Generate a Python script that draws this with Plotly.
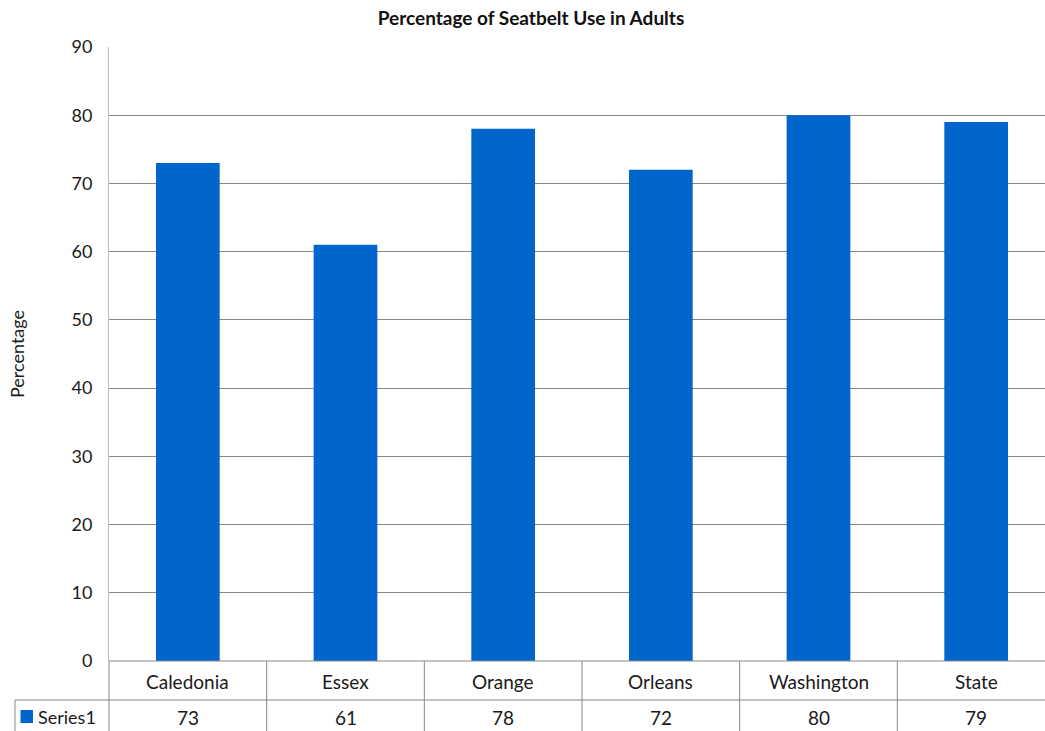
import plotly.graph_objects as go

categories = ["Caledonia", "Essex", "Orange", "Orleans", "Washington", "State"]
values = [73, 61, 78, 72, 80, 79]
series_name = "Series1"
y_ticks = list(range(0, 100, 10))

# the chart is slightly wider than the viewport; its right edge is cropped
W, H = 1055, 731
ML, MR, MT, MB = 109, 0, 47, 70
PW = W - ML - MR
PH = H - MT - MB

BAR = "#0066CC"
GRID = "#878787"
TEXT = "#1a1a1a"
FONT = "Lato, 'Open Sans', sans-serif"


def py(px_below):
    """Paper y for a point px_below pixels under the plot bottom."""
    return -px_below / PH


def px_x(px):
    """Paper x for an absolute pixel column."""
    return (px - ML) / PW


fig = go.Figure()
fig.add_trace(go.Bar(
    x=categories, y=values, name=series_name,
    marker=dict(color=BAR, line=dict(width=0)),
    width=0.404, showlegend=False,
))

annotations = []
for i, (c, v) in enumerate(zip(categories, values)):
    annotations.append(dict(x=i, y=py(20), xref="x", yref="paper", text=c,
                            showarrow=False, font=dict(size=19, color=TEXT),
                            xanchor="center", yanchor="middle"))
    annotations.append(dict(x=i, y=py(56), xref="x", yref="paper", text=str(v),
                            showarrow=False, font=dict(size=19, color=TEXT),
                            xanchor="center", yanchor="middle"))
# data-table legend label
annotations.append(dict(x=px_x(36), y=py(56), xref="paper", yref="paper",
                        text=series_name, showarrow=False,
                        font=dict(size=18, color=TEXT),
                        xanchor="left", yanchor="middle"))

line = dict(color=GRID, width=1)
shapes = [
    # table top / axis baseline
    dict(type="line", xref="paper", yref="paper", x0=0, x1=1, y0=0, y1=0, line=line),
    # row divider
    dict(type="line", xref="paper", yref="paper", x0=px_x(15), x1=1,
         y0=py(39), y1=py(39), line=line),
    # left edge of the table
    dict(type="line", xref="paper", yref="paper", x0=0, x1=0, y0=0, y1=py(70), line=line),
    # legend cell left edge
    dict(type="line", xref="paper", yref="paper", x0=px_x(15), x1=px_x(15),
         y0=py(39), y1=py(70), line=line),
    # legend swatch
    dict(type="rect", xref="paper", yref="paper", x0=px_x(20.5), x1=px_x(33),
         y0=py(49), y1=py(62), fillcolor=BAR, line=dict(width=0)),
]
for i in range(len(categories) - 1):
    shapes.append(dict(type="line", xref="x", yref="paper", x0=i + 0.5, x1=i + 0.5,
                       y0=0, y1=py(70), line=line))

fig.update_layout(
    width=W, height=H,
    margin=dict(l=ML, r=MR, t=MT, b=MB, pad=0, autoexpand=False),
    paper_bgcolor="white", plot_bgcolor="white",
    font=dict(family=FONT, size=18, color=TEXT),
    showlegend=False,
    title=dict(text="<b>Percentage of Seatbelt Use in Adults</b>",
               x=531 / W, xanchor="center", y=1 - 18 / H, yanchor="middle",
               font=dict(size=19, color="#111")),
    xaxis=dict(range=[-0.5, len(categories) - 0.5], showticklabels=False,
               showgrid=False, zeroline=False, showline=False, ticks="",
               automargin=False),
    yaxis=dict(range=[0, 90], tickvals=y_ticks, showgrid=True, gridcolor=GRID,
               gridwidth=1, zeroline=False, showline=True, linecolor="#BDBDBD",
               linewidth=1, ticks="", ticklabelstandoff=12, automargin=False,
               tickfont=dict(size=18, color=TEXT),
               title=dict(text="Percentage", font=dict(size=18, color=TEXT),
                          standoff=42)),
    annotations=annotations, shapes=shapes, bargap=0.596,
)

# keep the page exactly viewport-sized (no body margin, no scrollbars)
page_css = ("document.documentElement.style.overflow='hidden';"
            "document.body.style.margin='0';"
            "document.body.style.overflow='hidden';")
fig.write_html("out.html", post_script=page_css)
